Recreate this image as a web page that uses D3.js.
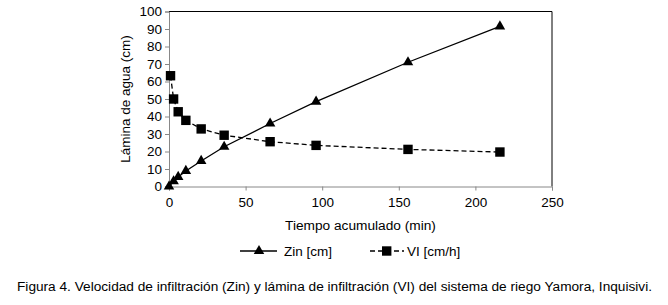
<!DOCTYPE html>
<html>
<head>
<meta charset="utf-8">
<script src="https://cdn.jsdelivr.net/npm/d3@7"></script>
<style>
  body { margin: 0; background: #fff; }
  text { font-family: "Liberation Sans", Arial, sans-serif; fill: #000; }
</style>
</head>
<body>
<div id="chart"></div>
<script>
// data
const zinTime = [0, 3, 6, 11, 21, 36, 66, 96, 156, 216];
const zinValues = [0, 3, 5.5, 8.9, 14.6, 22.7, 36, 48.5, 71, 91.5];
const viTime = [1, 3, 6, 11, 21, 36, 66, 96, 156, 216];
const viValues = [63.3, 50, 42.7, 37.8, 32.9, 29.3, 25.6, 23.5, 21.2, 19.7];
const xTicks = [0, 50, 100, 150, 200, 250];
const yTicks = [0, 10, 20, 30, 40, 50, 60, 70, 80, 90, 100];

const W = 668, H = 305;
const margin = { top: 11.5, right: 116, bottom: 118.5, left: 169 };
const width = W - margin.left - margin.right;
const height = H - margin.top - margin.bottom;

const svg = d3.select('#chart').append('svg')
  .attr('width', W).attr('height', H);

const g = svg.append('g')
  .attr('transform', `translate(${margin.left},${margin.top})`);

const x = d3.scaleLinear().domain([0, 250]).range([0, width]);
const y = d3.scaleLinear().domain([0, 100]).range([height, 0]);

// frame: top and right in black
g.append('path')
  .attr('d', `M0,0H${width}V${height}`)
  .attr('fill', 'none').attr('stroke', '#000').attr('stroke-width', 1);

// x axis
const xAxis = g.append('g')
  .attr('transform', `translate(0,${height})`)
  .call(d3.axisBottom(x).tickValues(xTicks).tickSizeOuter(0).tickSize(4).tickPadding(7));
xAxis.selectAll('line, path').attr('stroke', '#888');
xAxis.selectAll('text').style('font-size', '13.5px').attr('fill', '#000');

// y axis
const yAxis = g.append('g')
  .call(d3.axisLeft(y).tickValues(yTicks).tickSizeOuter(0).tickSize(4).tickPadding(3));
yAxis.selectAll('line, path').attr('stroke', '#888');
yAxis.selectAll('text').style('font-size', '13.5px').attr('fill', '#000');

// axis titles
g.append('text')
  .attr('x', width / 2).attr('y', height + 43)
  .attr('text-anchor', 'middle')
  .style('font-size', '13.7px')
  .text('Tiempo acumulado (min)');

g.append('text')
  .attr('transform', 'rotate(-90)')
  .attr('x', -height / 2).attr('y', -39)
  .attr('text-anchor', 'middle')
  .style('font-size', '13.5px')
  .text('Lámina de agua (cm)');

// series
const zin = zinTime.map((t, i) => [t, zinValues[i]]);
const vi = viTime.map((t, i) => [t, viValues[i]]);
const line = d3.line().x(d => x(d[0])).y(d => y(d[1]));

g.append('path').datum(zin)
  .attr('d', line).attr('fill', 'none')
  .attr('stroke', '#000').attr('stroke-width', 1.3);

g.append('path').datum(vi)
  .attr('d', line).attr('fill', 'none')
  .attr('stroke', '#000').attr('stroke-width', 1.3)
  .attr('stroke-dasharray', '5,3');

const tri = d3.symbol().type(d3.symbolTriangle).size(48);
g.selectAll('.tri').data(zin).enter().append('path')
  .attr('class', 'tri')
  .attr('d', tri)
  .attr('transform', d => `translate(${x(d[0])},${y(d[1])})`)
  .attr('fill', '#000');

g.selectAll('.sq').data(vi).enter().append('rect')
  .attr('class', 'sq')
  .attr('x', d => x(d[0]) - 4.7).attr('y', d => y(d[1]) - 4.7)
  .attr('width', 9.4).attr('height', 9.4)
  .attr('fill', '#000');

// legend
const legend = svg.append('g').attr('transform', 'translate(0,251)');
legend.append('line')
  .attr('x1', 240).attr('x2', 277).attr('y1', 0).attr('y2', 0)
  .attr('stroke', '#000').attr('stroke-width', 1.3);
legend.append('path').attr('d', tri)
  .attr('transform', 'translate(259,0)').attr('fill', '#000');
legend.append('text')
  .attr('x', 284).attr('y', 5)
  .style('font-size', '13.5px').text('Zin [cm]');

legend.append('line')
  .attr('x1', 370).attr('x2', 404).attr('y1', 0).attr('y2', 0)
  .attr('stroke', '#000').attr('stroke-width', 1.3)
  .attr('stroke-dasharray', '5,3');
legend.append('rect')
  .attr('x', 382).attr('y', -4.7).attr('width', 9.4).attr('height', 9.4)
  .attr('fill', '#000');
legend.append('text')
  .attr('x', 407).attr('y', 5)
  .style('font-size', '13.5px').text('VI [cm/h]');

// caption
svg.append('text')
  .attr('x', 17).attr('y', 291)
  .attr('textLength', 635).attr('lengthAdjust', 'spacingAndGlyphs')
  .style('font-size', '12.5px')
  .text('Figura 4. Velocidad de infiltración (Zin) y lámina de infiltración (VI) del sistema de riego Yamora, Inquisivi.');
</script>
</body>
</html>
